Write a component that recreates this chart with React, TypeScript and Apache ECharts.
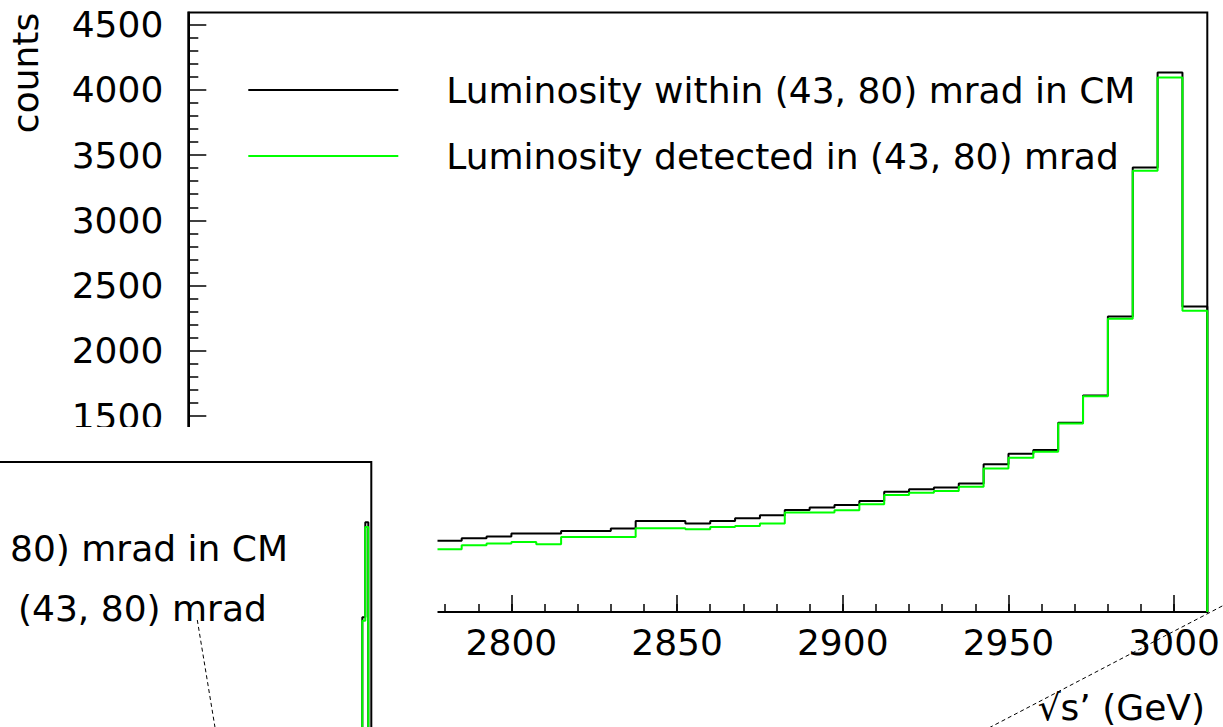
import React, { useEffect, useRef } from "react";
import * as echarts from "echarts";

// ---- data ----
const binStart = 2777.5; // left edge of first bin (GeV)
const binWidth = 7.5; // GeV
const histEnd = 3010; // right edge of last bin

const withinCM = [
  545, 565, 578, 601, 601, 621, 621, 639, 697, 697, 678, 697, 718, 741, 782, 800,
  820, 850, 922, 940, 953, 985, 1131, 1213, 1240, 1449, 1658, 2264, 3405, 4132, 2340,
];
const detected = [
  481, 512, 525, 537, 519, 575, 575, 575, 642, 642, 634, 652, 659, 678, 762, 762,
  780, 825, 896, 914, 927, 960, 1100, 1182, 1228, 1444, 1652, 2246, 3380, 4095, 2308,
];

const seriesNames = [
  "Luminosity within (43, 80) mrad in CM",
  "Luminosity detected in (43, 80) mrad",
];
// visible parts of the overlapping panel's legend
const insetLegendTexts = ["80) mrad in CM", "(43, 80) mrad"];

const xMajorTicks = [2750, 2800, 2850, 2900, 2950, 3000];
const xTickLabels = [2800, 2850, 2900, 2950, 3000];
const xMinorTicks = [
  2710, 2720, 2730, 2740, 2750, 2760, 2770, 2780, 2790, 2800, 2810, 2820, 2830, 2840,
  2850, 2860, 2870, 2880, 2890, 2900, 2910, 2920, 2930, 2940, 2950, 2960, 2970, 2980,
  2990, 3000,
];
const yMajorTicks = [0, 500, 1000, 1500, 2000, 2500, 3000, 3500, 4000, 4500];
const yTickLabels = [1500, 2000, 2500, 3000, 3500, 4000, 4500];
const yMinorTicks = [
  100, 200, 300, 400, 600, 700, 800, 900, 1100, 1200, 1300, 1400, 1600, 1700, 1800,
  1900, 2100, 2200, 2300, 2400, 2600, 2700, 2800, 2900, 3100, 3200, 3300, 3400, 3600,
  3700, 3800, 3900, 4100, 4200, 4300, 4400,
];

const xMin = 2702.5;
const yMax = 4592;
const insetXMin = 460;

const FONT = "DejaVu Sans";

function toSteps(values: number[]) {
  const pts: number[][] = values.map((v, i) => [binStart + i * binWidth, v]);
  pts.push([histEnd, values[values.length - 1]]);
  pts.push([histEnd, 0]);
  return pts;
}

export default function App() {
  const ref = useRef<HTMLDivElement>(null);
  useEffect(() => {
    if (!ref.current) return;
    const chart = echarts.init(ref.current, undefined, { renderer: "svg" });
    const blackSteps = toSteps(withinCM);
    const greenSteps = toSteps(detected);
    const tickLine = { color: "#000", width: 1.5 };
    const plain = (v: number) => String(v);
    const option: any = {
      animation: false,
      backgroundColor: "#fff",
      textStyle: { fontFamily: FONT },
      grid: [
        {
          left: 188.3,
          top: 12.5,
          width: 1019,
          height: 599.5,
          show: true,
          borderColor: "#000",
          borderWidth: 2,
          backgroundColor: "transparent",
          outerBoundsMode: "none",
          containLabel: false,
        },
        {
          left: 371.3 - 1019,
          top: 462,
          width: 1019,
          height: 601,
          show: true,
          borderColor: "#000",
          borderWidth: 2,
          backgroundColor: "transparent",
          outerBoundsMode: "none",
          containLabel: false,
          z: 11,
        },
      ],
      legend: {
        orient: "vertical",
        left: 248.3,
        top: 70,
        padding: 0,
        itemWidth: 150,
        itemHeight: 2,
        itemGap: 26,
        icon: "rect",
        selectedMode: false,
        data: seriesNames,
        textStyle: {
          fontFamily: FONT,
          fontSize: 36,
          color: "#000",
          lineHeight: 40,
          padding: [0, 0, 0, 43],
        },
      },
      xAxis: [
        {
          type: "value",
          gridIndex: 0,
          min: xMin,
          max: histEnd,
          position: "bottom",
          axisLine: { onZero: false, lineStyle: { color: "#000", width: 2 } },
          axisTick: { customValues: xMajorTicks, inside: true, length: 17, lineStyle: tickLine },
          axisLabel: {
            customValues: xTickLabels,
            formatter: plain,
            fontFamily: FONT,
            fontSize: 36,
            color: "#000",
            margin: 12,
          },
          splitLine: { show: false },
        },
        {
          type: "value",
          gridIndex: 0,
          min: xMin,
          max: histEnd,
          position: "bottom",
          axisLine: { show: false, onZero: false },
          axisTick: { customValues: xMinorTicks, inside: true, length: 8, lineStyle: tickLine },
          axisLabel: { show: false },
          splitLine: { show: false },
        },
        {
          type: "value",
          gridIndex: 1,
          min: insetXMin,
          max: histEnd,
          show: false,
        },
      ],
      yAxis: [
        {
          type: "value",
          gridIndex: 0,
          min: 0,
          max: yMax,
          position: "left",
          axisLine: { show: true, onZero: false, lineStyle: { color: "#000", width: 2 } },
          axisTick: { show: true, customValues: yMajorTicks, inside: true, length: 18, lineStyle: tickLine },
          axisLabel: {
            customValues: yTickLabels,
            formatter: plain,
            fontFamily: FONT,
            fontSize: 36,
            color: "#000",
            margin: 25,
          },
          splitLine: { show: false },
        },
        {
          type: "value",
          gridIndex: 0,
          min: 0,
          max: yMax,
          position: "left",
          axisLine: { show: false, onZero: false },
          axisTick: { show: true, customValues: yMinorTicks, inside: true, length: 10, lineStyle: tickLine },
          axisLabel: { show: false },
          splitLine: { show: false },
        },
        {
          type: "value",
          gridIndex: 1,
          min: 0,
          max: yMax,
          show: false,
        },
      ],
      series: [
        {
          name: seriesNames[0],
          type: "line",
          xAxisIndex: 0,
          yAxisIndex: 0,
          step: "end",
          symbol: "none",
          color: "#000000",
          lineStyle: { color: "#000000", width: 2 },
          data: blackSteps,
          z: 2,
        },
        {
          name: seriesNames[1],
          type: "line",
          xAxisIndex: 0,
          yAxisIndex: 0,
          step: "end",
          symbol: "none",
          color: "#00ff00",
          lineStyle: { color: "#00ff00", width: 2 },
          data: greenSteps,
          z: 3,
        },
        {
          name: seriesNames[0],
          type: "line",
          xAxisIndex: 2,
          yAxisIndex: 2,
          step: "end",
          symbol: "none",
          color: "#000000",
          lineStyle: { color: "#000000", width: 2 },
          data: blackSteps,
          z: 12,
        },
        {
          name: seriesNames[1],
          type: "line",
          xAxisIndex: 2,
          yAxisIndex: 2,
          step: "end",
          symbol: "none",
          color: "#00ff00",
          lineStyle: { color: "#00ff00", width: 2 },
          data: greenSteps,
          z: 13,
        },
      ],
      graphic: [
        {
          type: "rect",
          z: 10,
          shape: { x: 0, y: 427, width: 437.5, height: 300 },
          style: { fill: "#fff" },
        },
        {
          type: "text",
          z: 12,
          x: 10,
          y: 548,
          style: {
            text: insetLegendTexts[0],
            fontFamily: FONT,
            fontSize: 36,
            fill: "#000",
            align: "left",
            verticalAlign: "middle",
          },
        },
        {
          type: "text",
          z: 12,
          x: 18,
          y: 608,
          style: {
            text: insetLegendTexts[1],
            fontFamily: FONT,
            fontSize: 36,
            fill: "#000",
            align: "left",
            verticalAlign: "middle",
          },
        },
        {
          type: "text",
          z: 5,
          x: 25,
          y: 73,
          rotation: Math.PI / 2,
          style: {
            text: "counts",
            fontFamily: FONT,
            fontSize: 36,
            fill: "#000",
            align: "center",
            verticalAlign: "middle",
          },
        },
        {
          type: "text",
          z: 5,
          x: 1205,
          y: 707,
          style: {
            text: "√s’ (GeV)",
            fontFamily: FONT,
            fontSize: 36,
            fill: "#000",
            align: "right",
            verticalAlign: "middle",
          },
        },
        {
          type: "line",
          z: 15,
          shape: { x1: 197.3, y1: 620, x2: 215.6, y2: 731 },
          style: { stroke: "#000", lineWidth: 1, lineDash: [4, 3] },
        },
        {
          type: "line",
          z: 15,
          shape: { x1: 983, y1: 731, x2: 1223, y2: 605.6 },
          style: { stroke: "#000", lineWidth: 1, lineDash: [4, 3] },
        },
      ],
    };
    chart.setOption(option);
    return () => chart.dispose();
  }, []);
  return (
    <div
      ref={ref}
      style={{ position: "fixed", left: 0, top: 0, width: 1223, height: 727, background: "#fff" }}
    />
  );
}
